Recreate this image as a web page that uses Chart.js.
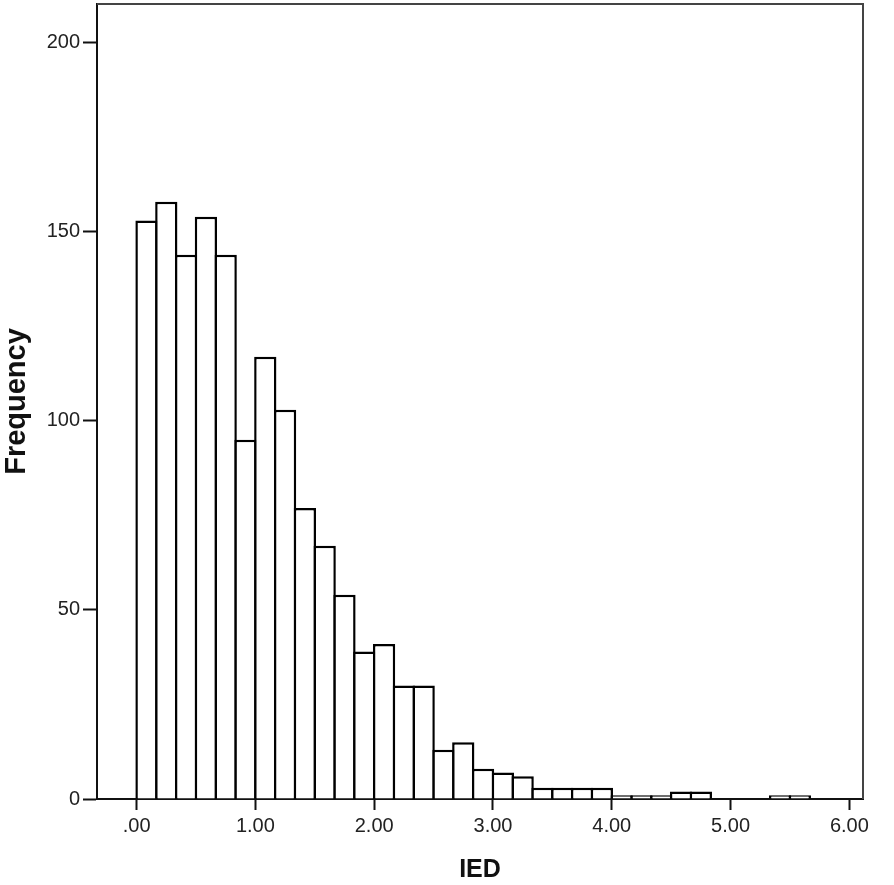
<!DOCTYPE html>
<html>
<head>
<meta charset="utf-8">
<script src="https://cdn.jsdelivr.net/npm/chart.js@4/dist/chart.umd.min.js"></script>
<style>
  body { margin: 0; background: #fff; }
</style>
</head>
<body>
<canvas id="hist" width="894" height="885"></canvas>
<script>
// histogram bins of IED (width 1/6), counts
const binWidth = 1 / 6;
const counts = [153, 158, 144, 154, 144, 95, 117, 103, 77, 67, 54, 39, 41, 30, 30, 13, 15, 8, 7, 6,
                3, 3, 3, 3, 1, 1, 1, 2, 2, 0, 0, 0, 1, 1];
const xTicks = [0, 1, 2, 3, 4, 5, 6];
const yTicks = [0, 50, 100, 150, 200];

var points = counts.map(function (c, i) {
    return { x: (i + 0.5) * binWidth, y: c };
});

// top and right edges of the plot frame
var frame = {
    id: 'frame',
    beforeDatasetsDraw: function (chart) {
        var a = chart.chartArea;
        var ctx = chart.ctx;
        ctx.save();
        ctx.strokeStyle = '#444';
        ctx.lineWidth = 2;
        ctx.beginPath();
        ctx.moveTo(a.left, a.top);
        ctx.lineTo(a.right, a.top);
        ctx.lineTo(a.right, a.bottom);
        ctx.stroke();
        ctx.restore();
    }
};

Chart.defaults.font.family = '"Liberation Sans", Arial, sans-serif';
Chart.defaults.color = '#222';

new Chart(document.getElementById('hist'), {
    type: 'bar',
    data: {
        datasets: [{
            label: 'Frequency',
            data: points,
            backgroundColor: '#fff',
            borderColor: '#000',
            borderWidth: 2.5,
            borderSkipped: 'start',
            // bars overlap by the border width so shared edges are single lines
            barPercentage: 1.125,
            categoryPercentage: 1
        }]
    },
    options: {
        responsive: false,
        animation: false,
        layout: { padding: { top: 4, right: 31, left: 0, bottom: 0 } },
        plugins: {
            legend: { display: false },
            tooltip: { enabled: false }
        },
        scales: {
            x: {
                type: 'linear',
                offset: false,
                min: -1 / 3,
                max: 6.115,
                afterFit: function (s) {
                    s.height = 86;
                    s.paddingLeft = 0;
                    s.paddingRight = 0;
                },
                afterBuildTicks: function (s) {
                    s.ticks = xTicks.map(function (v) { return { value: v }; });
                },
                ticks: {
                    font: { size: 20 },
                    padding: 4,
                    callback: function (v) { return v === 0 ? '.00' : v.toFixed(2); }
                },
                grid: {
                    offset: false,
                    drawOnChartArea: false,
                    tickLength: 11,
                    tickWidth: 2,
                    tickColor: '#111'
                },
                border: { color: '#111', width: 2 },
                title: {
                    display: true,
                    text: 'IED',
                    font: { size: 25, weight: 'bold' },
                    color: '#111',
                    padding: { top: 12, bottom: 0 }
                }
            },
            y: {
                min: 0,
                max: 210.3,
                afterFit: function (s) {
                    s.width = 97;
                    s.paddingTop = 0;
                    s.paddingBottom = 0;
                },
                afterBuildTicks: function (s) {
                    s.ticks = yTicks.map(function (v) { return { value: v }; });
                },
                ticks: {
                    font: { size: 20 },
                    padding: 3
                },
                grid: {
                    drawOnChartArea: false,
                    tickLength: 14,
                    tickWidth: 2,
                    tickColor: '#111'
                },
                border: { color: '#111', width: 2 },
                title: {
                    display: true,
                    text: 'Frequency',
                    font: { size: 29, weight: 'bold' },
                    color: '#111',
                    padding: { top: 0, bottom: 4 }
                }
            }
        }
    },
    plugins: [frame]
});
</script>
</body>
</html>
